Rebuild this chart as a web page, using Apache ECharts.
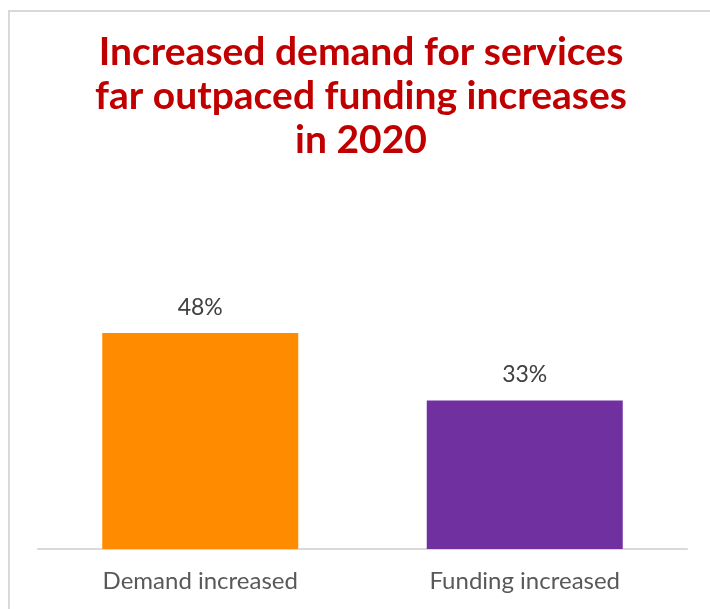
<!DOCTYPE html>
<html>
<head>
<meta charset="utf-8">
<script src="https://cdn.jsdelivr.net/npm/echarts@6/dist/echarts.min.js"></script>
<style>
  html, body { margin: 0; padding: 0; background: #ffffff; }
  #chart { width: 710px; height: 609px; }
</style>
</head>
<body>
<div id="chart"></div>
<script>
const categories = ['Demand increased', 'Funding increased'];
const values = [48, 33];
const barColors = ['#ff8c00', '#7030a0'];
const titleText = 'Increased demand for services\nfar outpaced funding increases\nin 2020';

const chart = echarts.init(document.getElementById('chart'), null, { renderer: 'canvas' });

chart.setOption({
  animation: false,
  backgroundColor: '#ffffff',
  title: {
    text: titleText,
    left: 356,
    top: 25,
    textAlign: 'center',
    textStyle: {
      fontFamily: 'Lato',
      fontWeight: 'bold',
      fontSize: 39,
      lineHeight: 44,
      color: '#c00000'
    }
  },
  graphic: [{
    type: 'rect',
    shape: { x: 9, y: 11, width: 720, height: 620 },
    style: { fill: 'none', stroke: '#d9d9d9', lineWidth: 2 },
    silent: true
  }],
  grid: { left: 38, right: 23, top: 279, bottom: 60, containLabel: false },
  xAxis: {
    type: 'category',
    data: categories,
    axisLine: { lineStyle: { color: '#d9d9d9', width: 2 } },
    axisTick: { show: false },
    axisLabel: {
      color: '#595959',
      fontFamily: 'Lato',
      fontSize: 24,
      margin: 20
    }
  },
  yAxis: {
    type: 'value',
    min: 0,
    max: 60,
    show: false,
    splitLine: { show: false }
  },
  series: [{
    type: 'bar',
    barWidth: 196,
    data: values.map((v, i) => ({ value: v, itemStyle: { color: barColors[i] } })),
    label: {
      show: true,
      position: 'top',
      distance: 14,
      formatter: '{c}%',
      color: '#404040',
      fontFamily: 'Lato',
      fontSize: 23
    }
  }]
});
</script>
</body>
</html>
